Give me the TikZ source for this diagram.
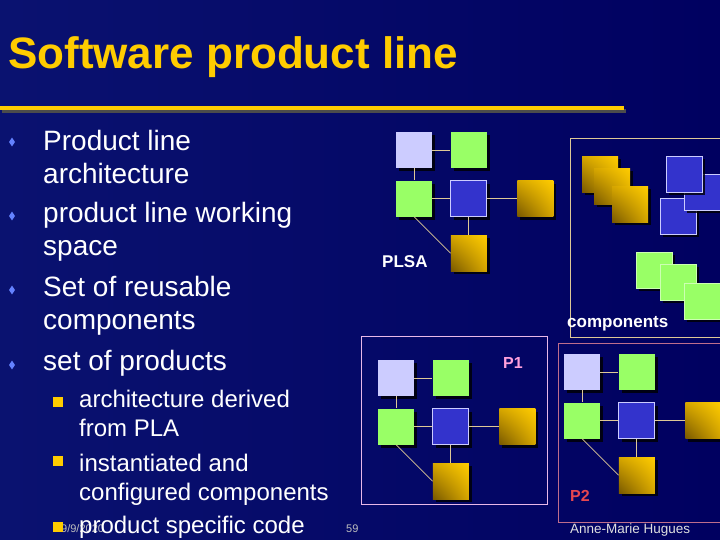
\documentclass[tikz,border=0pt]{standalone}
\usepackage{fontspec}
\setmainfont{Liberation Sans}
\usetikzlibrary{shapes.geometric, positioning, shadows, shadings}

\definecolor{slidebg}{RGB}{0,0,96}
\definecolor{slidebglt}{RGB}{10,18,112}
\definecolor{titleyellow}{RGB}{255,204,0}
\definecolor{lavfill}{RGB}{204,204,255}
\definecolor{greenfill}{RGB}{153,255,102}
\definecolor{bluefill}{RGB}{51,51,204}
\definecolor{golddk}{RGB}{120,88,0}
\definecolor{goldmd}{RGB}{214,166,0}
\definecolor{goldlt}{RGB}{255,204,0}
\definecolor{linktan}{RGB}{222,200,150}
\definecolor{pinkframe}{RGB}{232,184,232}
\definecolor{redframe}{RGB}{190,110,140}
\definecolor{ponecol}{RGB}{255,160,220}
\definecolor{ptwocol}{RGB}{230,70,80}
\definecolor{bulletblue}{RGB}{100,130,255}

\begin{document}
\begin{tikzpicture}[
    x=1pt, y=-1pt,
    every node/.style={text=white},
    box/.style={rectangle, minimum size=36pt, inner sep=0pt, anchor=north west,
        drop shadow={shadow xshift=3pt, shadow yshift=-3pt, fill=black, opacity=.8}},
    lav/.style={fill=lavfill},
    grn/.style={fill=greenfill},
    grnc/.style={fill=greenfill, draw=greenfill!50!white, line width=.8pt},
    blu/.style={fill=bluefill, draw=lavfill, line width=.8pt},
    gold/.style={lower left=golddk, upper right=goldlt, upper left=goldmd, lower right=goldmd},
    link/.style={draw=linktan, line width=.7pt},
    frame/.style={draw, line width=.8pt},
    item/.style={anchor=base west, inner sep=0pt, align=left, font=\fontsize{28}{33}\selectfont},
    subitem/.style={anchor=base west, inner sep=0pt, align=left, font=\fontsize{24}{29}\selectfont},
    dot/.style={diamond, fill=bulletblue, minimum width=6pt, minimum height=9pt, inner sep=0pt},
    sq/.style={rectangle, fill=titleyellow, minimum size=10pt, inner sep=0pt},
    tag/.style={anchor=base west, inner sep=0pt, font=\fontsize{17}{17}\selectfont\bfseries},
    small/.style={anchor=base west, inner sep=0pt, text=black!25, font=\fontsize{11}{11}\selectfont},
]
\useasboundingbox (0,0) rectangle (720,540);
\shade[left color=slidebglt, right color=slidebg] (0,0) rectangle (720,540);

% title
\node[anchor=base west, inner sep=0pt, text=titleyellow, font=\fontsize{44}{44}\selectfont\bfseries] (title) at (8,69) {Software product line};
\coordinate (rulel) at (0,108);
\coordinate (ruler) at (624,108);
\draw[line width=4pt, black!70] ([shift={(2,3)}]rulel) -- ([shift={(2,3)}]ruler);
\draw[line width=4pt, titleyellow] (rulel) -- (ruler);

% bullets (base = last line)
\node[dot] (d1) at (12,142) {};
\node[dot] (d2) at (12,216) {};
\node[dot] (d3) at (12,290) {};
\node[dot] (d4) at (12,365) {};
\node[item] (i1) at (43,184) {Product line\\architecture};
\node[item] (i2) at (43,255) {product line working\\space};
\node[item] (i3) at (43,329) {Set of reusable\\components};
\node[item] (i4) at (43,370) {set of products};

\node[small] (date) at (61,532) {9/9/2020};
\node[small] (page) at (346,532) {59};
\node[sq] (s1) at (58,402) {};
\node[sq] (s2) at (58,461) {};
\node[sq] (s3) at (58,527) {};
\node[subitem] (j1) at (79,436) {architecture derived\\from PLA};
\node[subitem] (j2) at (79,500) {instantiated and\\configured components};
\node[subitem] (j3) at (79,533) {product specific code};

% frames
\draw[frame, linktan] (570,138) rectangle (722,337);
\draw[frame, pinkframe] (361,336) rectangle (547,504);
\draw[frame, redframe] (558,343) rectangle (722,522);

% PLSA, P1 and P2 architectures
\foreach \p/\x/\y in {plsa/396/132, pone/378/360, ptwo/564/354} {
  \node[box, lav] (\p-lav) at (\x,\y) {};
  \node[box, grn, right=18pt of \p-lav] (\p-gt) {};
  \node[box, grn, below=12pt of \p-lav] (\p-gm) {};
  \node[box, blu, right=18pt of \p-gm] (\p-blu) {};
  \node[box, gold, right=30pt of \p-blu] (\p-gr) {};
  \node[box, gold, below=18pt of \p-blu] (\p-gb) {};
  \draw[link] (\p-lav) -- (\p-gt);
  \draw[link] (\p-lav) -- (\p-gm);
  \draw[link] (\p-gm) -- (\p-blu);
  \draw[link] (\p-blu) -- (\p-gr);
  \draw[link] (\p-blu) -- (\p-gb);
  \draw[link] (\p-gm.south) -- (\p-gb.west);
}

% reusable components
\node[box, gold] (ca) at (582,156) {};
\node[box, gold] (cb) at (594,168) {};
\node[box, gold] (cc) at (612,186) {};
\node[box, blu] (cd) at (660,198) {};
\node[box, blu] (ce) at (684,174) {};
\node[box, blu] (cf) at (666,156) {};
\node[box, grnc] (cg) at (636,252) {};
\node[box, grnc] (ch) at (660,264) {};
\node[box, grnc] (ci) at (684,283) {};

\node[tag] (plsa) at (382,267) {PLSA};
\node[tag] (comp) at (567,327) {components};
\node[tag, text=ponecol, font=\fontsize{16}{16}\selectfont\bfseries] (pone) at (503,368) {P1};
\node[tag, text=ptwocol, font=\fontsize{16}{16}\selectfont\bfseries] (ptwo) at (570,501) {P2};
\node[anchor=base west, inner sep=0pt, text=black!12, font=\fontsize{13.5}{14}\selectfont] (author) at (570,533) {Anne-Marie Hugues};
\end{tikzpicture}
\end{document}
